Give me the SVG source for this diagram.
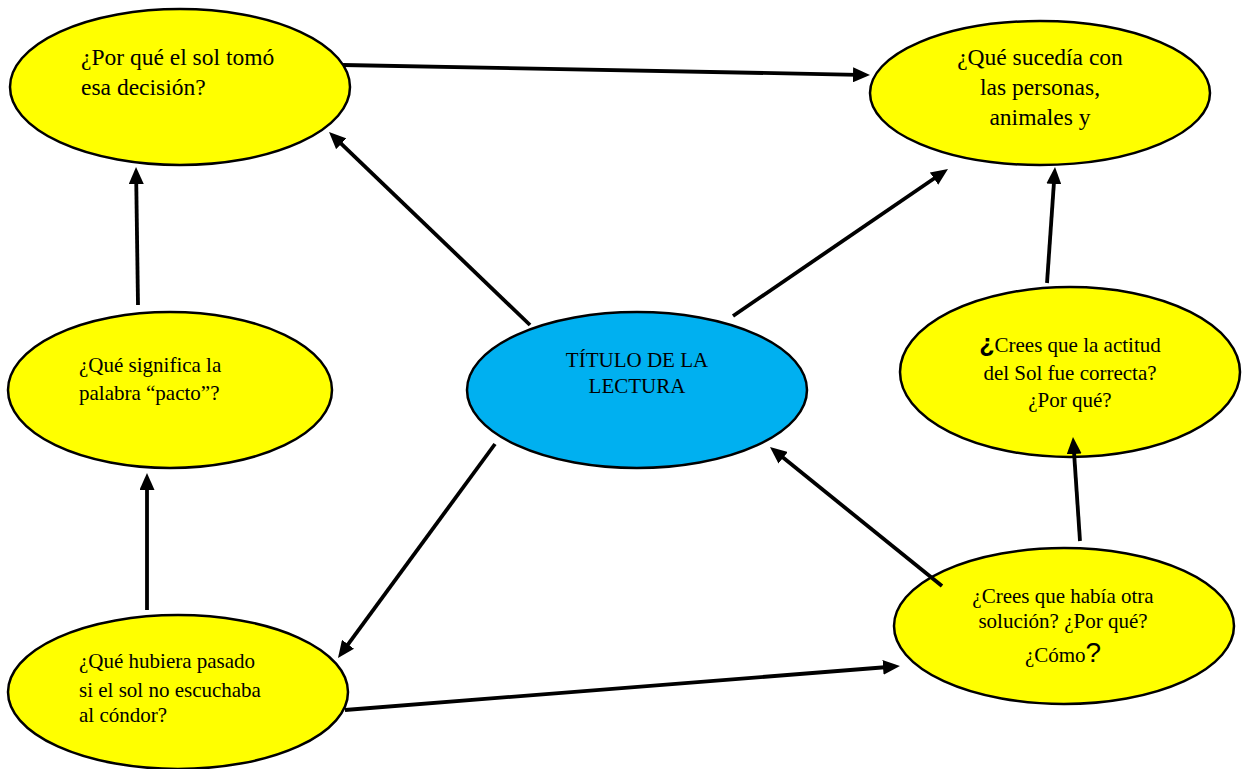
<svg xmlns="http://www.w3.org/2000/svg" width="1245" height="769" viewBox="0 0 1245 769">
<style>
.n{fill:#FFFF00;stroke:#000;stroke-width:2.5}
.c{fill:#00B0F0;stroke:#000;stroke-width:2.5}
.t{font-family:"Liberation Serif","Times New Roman",serif;fill:#000}
.a{stroke:#000;stroke-width:3.8;fill:none;marker-end:url(#ah)}
</style>
<defs>
<marker id="ah" markerUnits="userSpaceOnUse" markerWidth="17" markerHeight="15" refX="5" refY="7.5" orient="auto" viewBox="0 0 17 15">
<path d="M0,0 L17,7.5 L0,15 z" fill="#000"/>
</marker>
</defs>
<rect width="1245" height="769" fill="#fff"/>
<g id="n1">
<ellipse class="n" cx="180" cy="87" rx="170" ry="78"/>
<text class="t" font-size="23.5"><tspan x="81" y="65">¿Por qué el sol tomó</tspan><tspan x="81" y="95">esa decisión?</tspan></text>
</g>
<g id="n2">
<ellipse class="n" cx="1040" cy="93" rx="170" ry="72"/>
<text class="t" font-size="23.5" text-anchor="middle"><tspan x="1040" y="65">¿Qué sucedía con</tspan><tspan x="1040" y="95">las personas,</tspan><tspan x="1040" y="125">animales y</tspan></text>
</g>
<g id="n3">
<ellipse class="n" cx="1070" cy="372" rx="170" ry="85"/>
<text class="t" font-size="21" text-anchor="middle"><tspan x="1070" y="352"><tspan font-family="Liberation Sans, Arial, sans-serif" font-weight="bold" font-size="25">¿</tspan>Crees que la actitud</tspan><tspan x="1070" y="380">del Sol fue correcta?</tspan><tspan x="1070" y="407">¿Por qué?</tspan></text>
</g>
<g id="n4">
<ellipse class="n" cx="1064" cy="626" rx="170" ry="78"/>
<text class="t" font-size="21" text-anchor="middle"><tspan x="1063" y="603">¿Crees que había otra</tspan><tspan x="1063" y="628">solución? ¿Por qué?</tspan><tspan x="1063" y="662">¿Cómo<tspan font-family="Liberation Sans, Arial, sans-serif" font-size="28">?</tspan></tspan></text>
</g>
<g id="n5">
<ellipse class="n" cx="178" cy="692" rx="170" ry="77"/>
<text class="t" font-size="21"><tspan x="79" y="668">¿Qué hubiera pasado</tspan><tspan x="79" y="697">si el sol no escuchaba</tspan><tspan x="79" y="722">al cóndor?</tspan></text>
</g>
<g id="n6">
<ellipse class="n" cx="170" cy="390" rx="162" ry="78"/>
<text class="t" font-size="21"><tspan x="79" y="372">¿Qué significa la</tspan><tspan x="79" y="400">palabra “pacto”?</tspan></text>
</g>
<g id="n7">
<ellipse class="c" cx="637" cy="390" rx="170" ry="78"/>
<text class="t" font-size="21" text-anchor="middle"><tspan x="637" y="367">TÍTULO DE LA</tspan><tspan x="637" y="393">LECTURA</tspan></text>
</g>
<g id="connectors">
<line class="a" x1="343" y1="65" x2="858" y2="74.8"/>
<line class="a" x1="530" y1="325" x2="337.7" y2="140.3"/>
<line class="a" x1="733" y1="316" x2="938.1" y2="175.8"/>
<line class="a" x1="138" y1="305" x2="136.2" y2="179"/>
<line class="a" x1="147" y1="610" x2="147" y2="485"/>
<line class="a" x1="495" y1="444" x2="345.1" y2="648.3"/>
<line class="a" x1="345" y1="710" x2="888" y2="667"/>
<line class="a" x1="942" y1="586" x2="779.3" y2="454.6"/>
<line class="a" x1="1080" y1="541" x2="1073.8" y2="449"/>
<line class="a" x1="1047" y1="283" x2="1054.2" y2="179"/>
</g>
</svg>
